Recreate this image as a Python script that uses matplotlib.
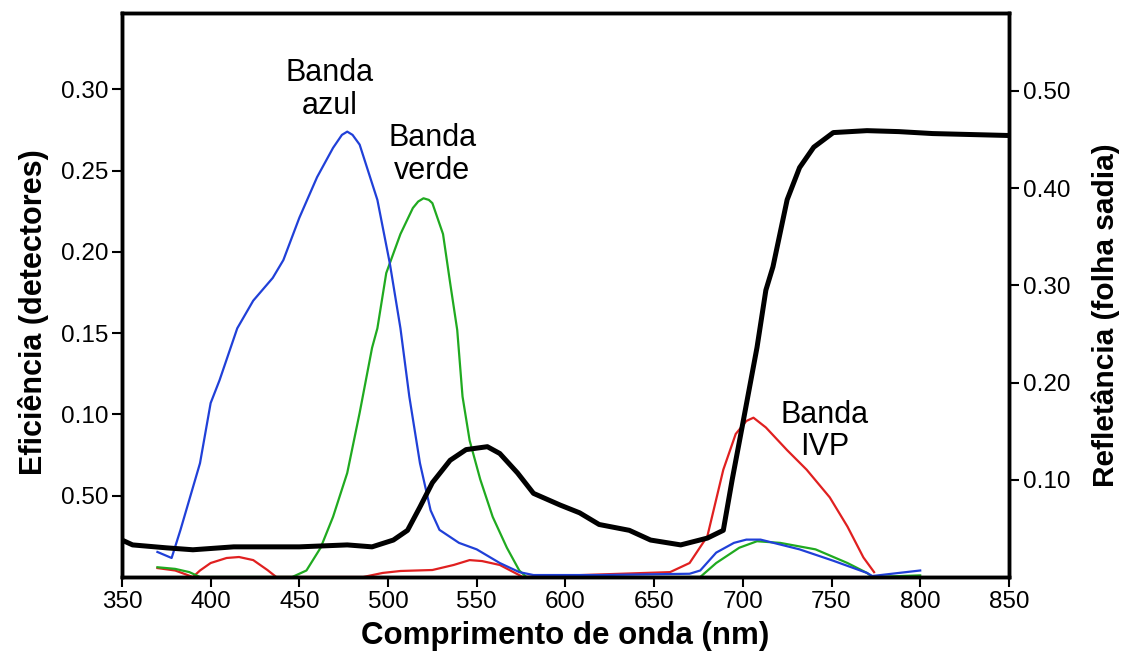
import matplotlib.pyplot as plt

plt.rcParams['font.family'] = ['Liberation Sans', 'DejaVu Sans']

# Eficiencia dos detectores (eixo esquerdo)
azul_nm = [370, 378, 383, 394, 400, 405, 415, 424, 435, 441, 450, 460, 469, 474, 477, 480, 484,
           494, 501, 507, 512, 518, 524, 529, 540, 550, 563, 574, 582, 620, 670, 676,
           685, 695, 702, 710, 732, 751, 770, 773, 788, 800]
azul_ef = [0.0154, 0.0117, 0.029, 0.070, 0.107, 0.121, 0.153, 0.170, 0.184, 0.195, 0.221,
           0.246, 0.264, 0.272, 0.274, 0.272, 0.266, 0.232, 0.193, 0.153, 0.111, 0.070, 0.041,
           0.029, 0.021, 0.017, 0.0086, 0.003, 0.0012, 0.0012, 0.002, 0.004, 0.015, 0.021,
           0.023, 0.023, 0.017, 0.010, 0.0025, 0.0006, 0.0025, 0.004]

verde_nm = [370, 380, 388, 394, 446, 454, 462, 469, 477, 484, 491, 494, 499, 507, 514, 517, 520,
            523, 525, 531, 535, 539, 542, 546, 552, 559, 567, 574, 578, 676, 685, 698, 708, 721,
            741, 759, 770, 773, 800]
verde_ef = [0.006, 0.005, 0.003, 0.0, 0.0, 0.004, 0.018, 0.037, 0.064, 0.101, 0.141, 0.153,
            0.187, 0.211, 0.227, 0.231, 0.233, 0.232, 0.230, 0.211, 0.181, 0.152, 0.111, 0.084,
            0.060, 0.037, 0.018, 0.004, 0.0, 0.0, 0.0086, 0.018, 0.022, 0.021, 0.017, 0.0086,
            0.0025, 0.0, 0.001]

verm_nm = [370, 380, 390, 394, 400, 409, 416, 424, 432, 437, 486, 497, 507, 525, 537, 546,
           553, 563, 576, 659, 670, 680, 689, 696, 702, 706, 713, 725, 736, 749, 759, 768, 774]
verm_ef = [0.0055, 0.004, 0.0, 0.004, 0.0086, 0.0117, 0.0123, 0.0104, 0.0043, 0.0, 0.0,
           0.0025, 0.0037, 0.0043, 0.0074, 0.0104, 0.0098, 0.0074, 0.0, 0.003, 0.0086,
           0.025, 0.066, 0.088, 0.096, 0.098, 0.092, 0.078, 0.066, 0.049, 0.031, 0.012, 0.003]

# Refletancia da folha sadia (eixo direito)
folha_nm = [350, 356, 375, 390, 413, 450, 477, 491, 503, 511, 518, 525, 535, 544, 556, 563,
            573, 582, 597, 608, 619, 636, 648, 665, 680, 689, 694, 700, 708, 713, 717, 725,
            732, 740, 751, 770, 788, 807, 850]
folha_ref = [0.038, 0.033, 0.030, 0.028, 0.031, 0.031, 0.033, 0.031, 0.038, 0.048, 0.072,
             0.097, 0.120, 0.131, 0.134, 0.127, 0.107, 0.086, 0.074, 0.066, 0.054, 0.048,
             0.038, 0.033, 0.040, 0.048, 0.100, 0.158, 0.236, 0.295, 0.319, 0.388, 0.421,
             0.442, 0.457, 0.459, 0.458, 0.456, 0.454]

left_ticks = [0.05, 0.10, 0.15, 0.20, 0.25, 0.30]
left_labels = ['0.50', '0.10', '0.15', '0.20', '0.25', '0.30']
right_ticks = [0.10, 0.20, 0.30, 0.40, 0.50]
right_labels = ['0.10', '0.20', '0.30', '0.40', '0.50']
x_ticks = [350, 400, 450, 500, 550, 600, 650, 700, 750, 800, 850]

fig = plt.figure(figsize=(11.26, 6.62), dpi=100)
ax = fig.add_axes([0.1083, 0.1284, 0.7877, 0.852])
ax2 = ax.twinx()

ax.plot(verm_nm, verm_ef, color='#e02020', linewidth=1.6)
ax.plot(verde_nm, verde_ef, color='#20aa20', linewidth=1.6)
ax.plot(azul_nm, azul_ef, color='#2040d8', linewidth=1.6)
ax2.plot(folha_nm, folha_ref, color='black', linewidth=3.6)

ax.set_xlim(350, 850)
ax.set_ylim(0, 0.347)
ax2.set_ylim(0, 0.58)

ax.set_xticks(x_ticks)
ax.set_yticks(left_ticks)
ax.set_yticklabels(left_labels)
ax2.set_yticks(right_ticks)
ax2.set_yticklabels(right_labels)

for a in (ax, ax2):
    for s in a.spines.values():
        s.set_linewidth(2.5)
    a.tick_params(direction='out', length=7, width=1.5, labelsize=17.5, pad=3)

ax.set_xlabel('Comprimento de onda (nm)', fontsize=22.5, fontweight='bold', labelpad=6)
ax.set_ylabel('Eficiência (detectores)', fontsize=22, fontweight='bold', labelpad=8)
ax2.set_ylabel('Refletância (folha sadia)', fontsize=21.5, fontweight='bold', labelpad=15)
ax.yaxis.label.set_y(0.47)
ax2.yaxis.label.set_y(0.465)

ax.text(467, 0.300, 'Banda\nazul', fontsize=22, ha='center', va='center', linespacing=1.1)
ax.text(525, 0.260, 'Banda\nverde', fontsize=22, ha='center', va='center', linespacing=1.1)
ax.text(746, 0.090, 'Banda\nIVP', fontsize=22, ha='center', va='center', linespacing=1.1)

plt.savefig('out.png', dpi=100)
